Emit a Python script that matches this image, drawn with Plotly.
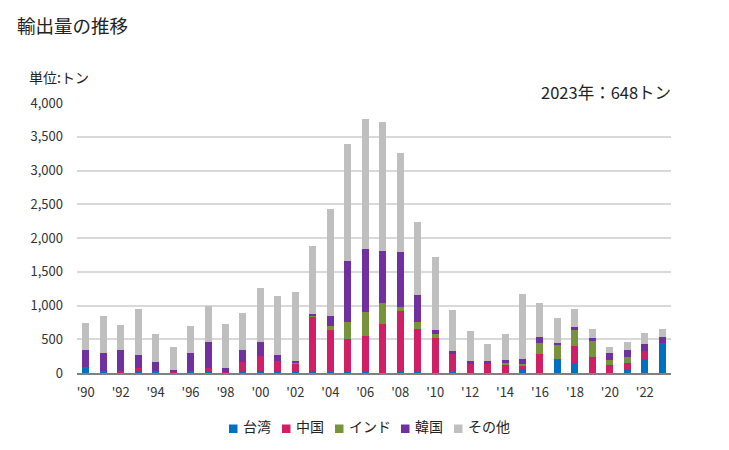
import plotly.graph_objects as go

years = list(range(1990, 2024))
taiwan = [75, 20, 5, 25, 25, 3, 20, 25, 10, 25, 25, 25, 20, 30, 20, 20, 30, 5, 20, 20, 3, 15, 0, 0, 0, 49, 0, 198, 153, 0, 0, 64, 213, 436]
china = [15, 5, 25, 48, 5, 20, 10, 55, 5, 137, 220, 146, 120, 802, 619, 485, 519, 723, 901, 633, 515, 266, 148, 148, 128, 54, 281, 15, 253, 243, 124, 89, 119, 14]
india = [0, 0, 0, 0, 0, 0, 0, 0, 0, 0, 0, 0, 10, 15, 59, 252, 357, 312, 59, 104, 59, 0, 0, 0, 15, 30, 163, 208, 238, 237, 74, 90, 0, 0]
korea = [245, 270, 318, 187, 127, 15, 260, 385, 55, 186, 220, 89, 28, 30, 148, 906, 935, 772, 817, 401, 60, 45, 29, 29, 44, 74, 88, 29, 44, 45, 104, 104, 104, 90]
other = [400, 555, 367, 690, 426, 340, 410, 530, 660, 544, 795, 880, 1025, 1010, 1589, 1723, 1916, 1900, 1455, 1084, 1084, 609, 444, 252, 385, 961, 503, 372, 253, 133, 89, 118, 163, 108]

names = ["台湾", "中国", "インド", "韓国", "その他"]
colors = ["#0070C0", "#D01F64", "#77933C", "#7030A0", "#BFBFBF"]
values = [taiwan, china, india, korea, other]

tick_years = list(range(1990, 2023, 2))
tick_text = ["'" + str(y)[2:] for y in tick_years]

FONT = "Noto Sans CJK JP, Noto Sans, sans-serif"

# plot area in pixels
L, R, T, B = 77, 671, 103, 373
W, H = R - L, B - T


def px_x(p):
    return (p - L) / W


def px_y(p):
    return (B - p) / H


fig = go.Figure()
for name, vals, col in zip(names, values, colors):
    fig.add_trace(go.Bar(x=years, y=vals, name=name, marker_color=col, marker_line_width=0,
                         width=0.4, showlegend=False))

fig.update_layout(
    barmode="stack",
    width=729, height=450,
    margin=dict(l=L, r=729 - R, t=T, b=450 - B),
    paper_bgcolor="white", plot_bgcolor="white",
    font=dict(family=FONT, color="#333333", size=13),
    title=dict(text="輸出量の推移", x=17/729, xref="container", xanchor="left",
               y=1-27/450, yref="container", yanchor="middle",
               font=dict(size=18.5, color="#222222", family=FONT)),
    showlegend=False,
)
fig.update_xaxes(range=[1989.5, 2023.5], tickmode="array", tickvals=tick_years, ticktext=tick_text,
                 showgrid=False, showline=True, linecolor="#808080", linewidth=2,
                 ticks="", ticklabelstandoff=6, tickfont=dict(size=13, color="#333333"))
fig.update_yaxes(range=[0, 4000], tickmode="array", tickvals=list(range(0, 4001, 500)),
                 tickformat=",", showgrid=True, gridcolor="#D9D9D9", gridwidth=1.5,
                 zeroline=False, showline=False, ticks="", ticklabelstandoff=13,
                 tickfont=dict(size=13, color="#333333"))

fig.add_annotation(text="単位:トン", xref="paper", yref="paper", x=px_x(27), y=px_y(77),
                   xanchor="left", yanchor="middle", showarrow=False, font=dict(size=14, color="#222222"))
fig.add_annotation(text="2023年：648トン", xref="paper", yref="paper", x=px_x(673), y=px_y(92),
                   xanchor="right", yanchor="middle", showarrow=False, font=dict(size=16.5, color="#222222"))

# legend (square + label) laid out like the original
leg_sq = [229, 282, 335, 401, 454]
for name, col, sx in zip(names, colors, leg_sq):
    fig.add_shape(type="rect", xref="paper", yref="paper",
                  x0=px_x(sx), x1=px_x(sx + 8.5), y0=px_y(433), y1=px_y(424.5),
                  fillcolor=col, line_width=0)
    fig.add_annotation(text=name, xref="paper", yref="paper", x=px_x(sx + 12), y=px_y(426),
                       xanchor="left", yanchor="middle", showarrow=False,
                       font=dict(size=14, color="#222222"))

fig.write_html("out.html")
